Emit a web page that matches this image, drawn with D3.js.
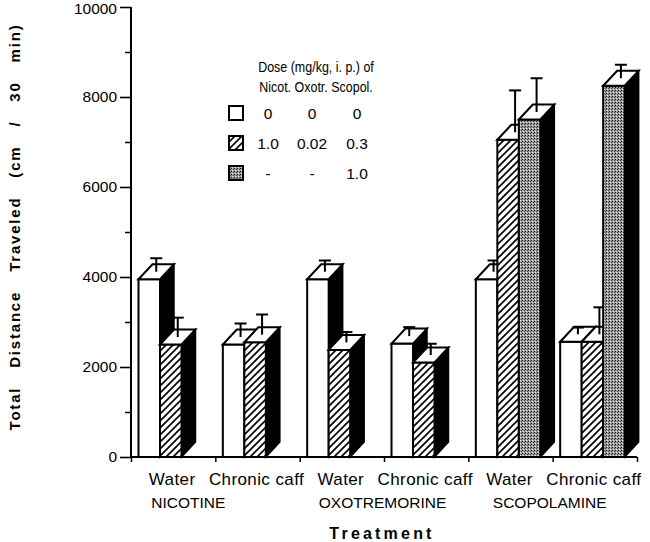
<!DOCTYPE html>
<html><head><meta charset="utf-8">
<script src="https://cdn.jsdelivr.net/npm/d3@7"></script>
<style>body{margin:0;background:#fff}svg{display:block}</style>
</head><body>
<svg id="c" width="650" height="542"></svg>
<script>
const categories = ["Water","Chronic caff","Water","Chronic caff","Water","Chronic caff"];
const drugs = ["NICOTINE","OXOTREMORINE","SCOPOLAMINE"];
const meanControl = [3950, 2500, 3950, 2520, 3950, 2560];
const semControl  = [300, 300, 250, 200, 250, 150];
const meanLow     = [2500, 2550, 2380, 2100, 7050, 2560];
const semLow      = [430, 450, 230, 250, 930, 600];
const meanHigh    = [null, null, null, null, 7500, 8250];
const semHigh     = [null, null, null, null, 750, 300];
const yTicks = [0, 2000, 4000, 6000, 8000, 10000];
const yMinor = [1000, 3000, 5000, 7000, 9000];
const legendHead = ["Dose (mg/kg, i. p.) of", "Nicot. Oxotr. Scopol."];
const legendRows = [["0","0","0"],["1.0","0.02","0.3"],["-","-","1.0"]];

const svg = d3.select("#c");
const font = "'Liberation Sans', Arial, sans-serif";
const y = d3.scaleLinear().domain([0, 10000]).range([457, 7]);
const xb = d3.scaleBand().domain(d3.range(categories.length)).range([131, 637]).paddingInner(0).paddingOuter(0);
const xe = d3.scaleLinear().domain([0, categories.length]).range([131, 637]);

// patterns
const defs = svg.append("defs");
const hp = defs.append("pattern").attr("id","hatch").attr("patternUnits","userSpaceOnUse")
  .attr("width",7).attr("height",7);
hp.append("rect").attr("width",7).attr("height",7).attr("fill","#fff");
hp.append("path").attr("d","M-1,8 L8,-1 M-4,4 L4,-4 M3,11 L11,3").attr("stroke","#000").attr("stroke-width",1.7);
const gp = defs.append("pattern").attr("id","stip").attr("patternUnits","userSpaceOnUse")
  .attr("width",3).attr("height",3);
gp.append("rect").attr("width",3).attr("height",3).attr("fill","#9a9a9a");
gp.append("rect").attr("x",0).attr("y",0).attr("width",1).attr("height",1).attr("fill","#111");
gp.append("rect").attr("x",2).attr("y",1).attr("width",1).attr("height",1).attr("fill","#444");
gp.append("rect").attr("x",1).attr("y",2).attr("width",1).attr("height",1).attr("fill","#eee");

const fills = ["#fff", "url(#hatch)", "url(#stip)"];
const series = [[meanControl, semControl],[meanLow, semLow],[meanHigh, semHigh]];

const bw = 21.5, off = 7.5, dx = 14, dy = 15;
const bars = [];
categories.forEach((c, i) => {
  series.forEach((s, k) => {
    const v = s[0][i];
    if (v == null) return;
    bars.push({i, k, v, e: s[1][i]});
  });
});
const gB = svg.append("g");
bars.forEach(b => {
  const x0 = xb(b.i) + off + b.k * bw;
  const x1 = x0 + bw;
  const yt = y(b.v), y0 = y(0);
  const g = gB.append("g");
  g.append("path").attr("d", `M${x1},${yt} L${x1+dx},${yt-dy} L${x1+dx},${y0-dy} L${x1},${y0} Z`)
    .attr("fill","#000").attr("stroke","#000").attr("stroke-width",1.5);
  g.append("rect").attr("x",x0).attr("y",yt).attr("width",bw).attr("height",y0-yt)
    .attr("fill",fills[b.k]).attr("stroke","#000").attr("stroke-width",2);
  g.append("path").attr("d", `M${x0},${yt} L${x0+dx},${yt-dy} L${x1+dx},${yt-dy} L${x1},${yt} Z`)
    .attr("fill","#fff").attr("stroke","#000").attr("stroke-width",2);
  const ex = (x0 + x1) / 2 + dx / 2;
  const eyb = yt - dy / 2, eyt = y(b.v + b.e) - dy / 2;
  g.append("line").attr("x1",ex).attr("x2",ex).attr("y1",eyb).attr("y2",eyt).attr("stroke","#000").attr("stroke-width",2);
  g.append("line").attr("x1",ex-6).attr("x2",ex+6).attr("y1",eyt).attr("y2",eyt).attr("stroke","#000").attr("stroke-width",2);
});

// y axis
const ya = svg.append("g").attr("transform","translate(131,0)")
  .call(d3.axisLeft(y).tickValues(yTicks).tickSize(11).tickPadding(3).tickFormat(d3.format("d")));
ya.select(".domain").attr("stroke-width",2).attr("d","M0,7V457");
ya.selectAll(".tick line").attr("stroke-width",1.6);
ya.selectAll("text").attr("font-family",font).attr("font-size",15.5).attr("fill","#000");
ya.selectAll(".tick").filter(d => d === 10000).select("text").attr("dy","0.4em");
svg.append("g").attr("transform","translate(131,0)")
  .call(d3.axisLeft(y).tickValues(yMinor).tickSize(6).tickFormat(""))
  .call(g => g.select(".domain").remove())
  .selectAll(".tick line").attr("stroke-width",1.5);

// x axis
const xa = svg.append("g").attr("transform","translate(0,457)")
  .call(d3.axisBottom(xe).tickValues(d3.range(categories.length + 1)).tickSize(5).tickFormat(""));
xa.select(".domain").attr("stroke-width",2).attr("d","M131,0H637");
xa.selectAll(".tick line").attr("stroke-width",1.5);

// category labels
svg.append("g").selectAll("text").data(categories).join("text")
  .attr("x",(d,i) => xb(i) + xb.bandwidth()/2 - 1).attr("y",485)
  .attr("text-anchor","middle").attr("font-family",font).attr("font-size",17)
  .attr("letter-spacing",0.4).text(d => d);
const drugShift = [-27, -1.5, -3];
svg.append("g").selectAll("text").data(drugs).join("text")
  .attr("x",(d,i) => xb(i*2+1) + drugShift[i]).attr("y",508)
  .attr("text-anchor","middle").attr("font-family",font).attr("font-size",15.5).text(d => d);

svg.append("text").attr("x",382).attr("y",539).attr("text-anchor","middle")
  .attr("font-family",font).attr("font-weight","bold").attr("font-size",16)
  .attr("letter-spacing",3.2).text("Treatment");

svg.append("text").attr("transform","translate(20,227) rotate(-90)").attr("text-anchor","middle")
  .attr("font-family",font).attr("font-weight","bold").attr("font-size",15)
  .attr("letter-spacing",1.8).attr("word-spacing",13)
  .text("Total Distance Traveled (cm / 30 min)");

// legend
const lg = svg.append("g");
legendHead.forEach((t, j) => {
  lg.append("text").attr("transform", `translate(316,${72 + j*20}) scale(0.86,1)`).attr("text-anchor","middle")
    .attr("font-family",font).attr("font-size",14.5).text(t);
});
const colX = [268, 312, 357];
legendRows.forEach((r, j) => {
  const by = 106 + j * 30;
  lg.append("rect").attr("x",229).attr("y",by).attr("width",14).attr("height",14)
    .attr("fill",fills[j]).attr("stroke","#000").attr("stroke-width",2);
  r.forEach((t, m) => {
    lg.append("text").attr("x",colX[m]).attr("y",by+13).attr("text-anchor","middle")
      .attr("font-family",font).attr("font-size",15.5).text(t);
  });
});
</script>
</body></html>
